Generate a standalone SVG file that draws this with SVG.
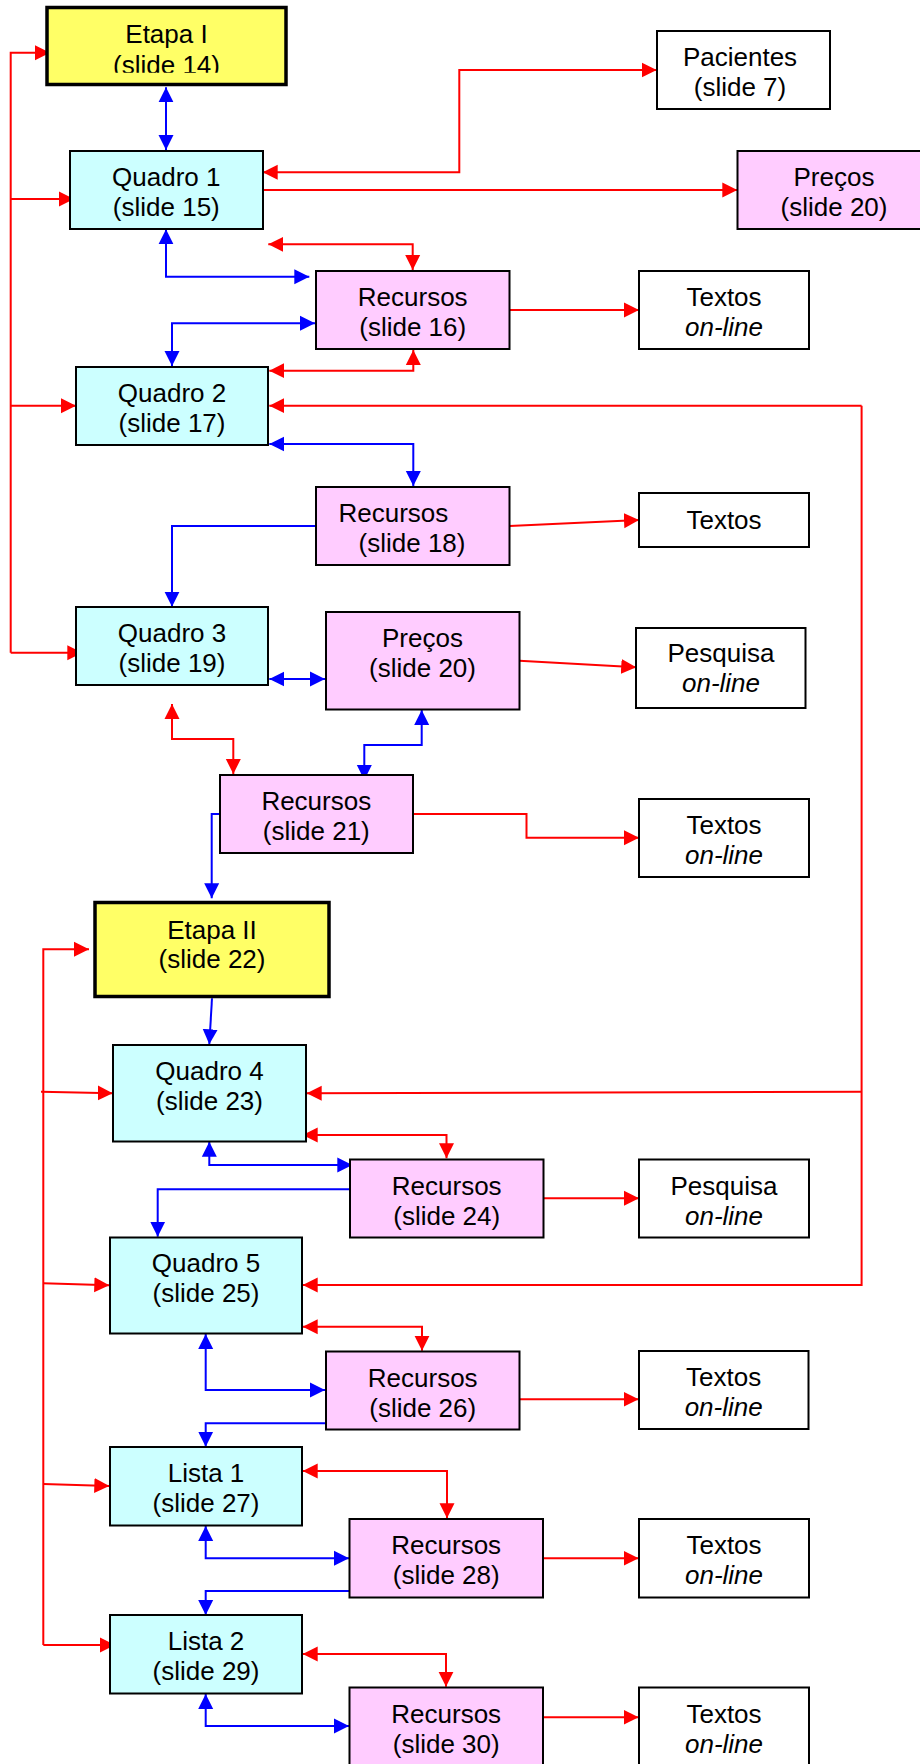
<svg xmlns="http://www.w3.org/2000/svg" width="920" height="1764" viewBox="0 0 920 1764">
<defs>
<marker id="ar" markerUnits="userSpaceOnUse" markerWidth="16" markerHeight="16" viewBox="0 0 16 16" refX="15" refY="8" orient="auto-start-reverse"><path d="M0,0.5 L15,8 L0,15.5 z" fill="#FF0000"/></marker>
<marker id="ab" markerUnits="userSpaceOnUse" markerWidth="16" markerHeight="16" viewBox="0 0 16 16" refX="15" refY="8" orient="auto-start-reverse"><path d="M0,0.5 L15,8 L0,15.5 z" fill="#0000FF"/></marker>
<clipPath id="clipE1"><rect x="40" y="0" width="260" height="72.7"/></clipPath>
</defs>
<style>
.box{stroke:#000;stroke-width:2}
.thick{stroke:#000;stroke-width:3.5}
.y{fill:#FFFF66}.c{fill:#CCFFFF}.p{fill:#FFCCFF}.w{fill:#FFFFFF}
text{font-family:"Liberation Sans",Arial,sans-serif;font-size:26px;fill:#000;text-anchor:middle}
.it{font-style:italic}
.r{fill:none;stroke:#FF0000;stroke-width:2}
.b{fill:none;stroke:#0000FF;stroke-width:2}
.re{marker-end:url(#ar)}.rs{marker-start:url(#ar)}
.be{marker-end:url(#ab)}.bs{marker-start:url(#ab)}
</style>
<rect width="920" height="1764" fill="#FFFFFF"/>
<g id="connectors">
<!-- left red bus 1 -->
<path class="r re" d="M10.7,652.7 V52.7 H50"/>
<path class="r re" d="M10.7,199 H74"/>
<path class="r re" d="M10.7,405.7 H76"/>
<path class="r re" d="M10.7,652.7 H82.3"/>
<!-- left red bus 2 -->
<path class="r re" d="M43.3,1645 V949.3 H89"/>
<path class="r re" d="M41,1091.7 L112.7,1093.3"/>
<path class="r re" d="M43.3,1283.3 L109.3,1285.3"/>
<path class="r re" d="M43.3,1484 L109.3,1486"/>
<path class="r re" d="M43.3,1645 H115"/>
<!-- big right red -->
<path class="r re" d="M861.6,405.7 H269.3"/>
<path class="r re" d="M861.6,405.7 V1285 H302.7"/>
<path class="r re" d="M861.6,1091.7 L306.7,1093.3"/>
<!-- top area -->
<path class="b bs be" d="M166,87.3 V150"/>
<path class="r rs re" d="M262.7,172.3 H459.3 V70 H656.7"/>
<path class="r re" d="M262.7,190 H737.3"/>
<path class="r rs re" d="M268.3,244.3 H412.7 V270"/>
<path class="b bs be" d="M166,229.3 V276.7 H309.3"/>
<path class="b bs be" d="M172,366 V323.3 H315"/>
<path class="r rs re" d="M269.3,370.7 H413.3 V350"/>
<path class="r re" d="M509.5,310 H639"/>
<path class="b bs be" d="M269.3,444 H413.3 V486"/>
<path class="r re" d="M509.5,526 L639,520"/>
<path class="b be" d="M316,526 H172 V606.7"/>
<path class="b bs be" d="M269.3,679 H325"/>
<path class="r re" d="M519.4,660.7 L636.2,667.3"/>
<path class="r rs re" d="M172,704 V739 H233.3 V774"/>
<path class="b bs be" d="M421.7,710 V745 H364.3 V780"/>
<path class="r re" d="M412.7,814 H526.5 V837.7 H639"/>
<path class="b be" d="M220,814 H211.7 V898.3"/>
<!-- Etapa II area -->
<path class="b be" d="M212,998.3 L209.3,1044.3"/>
<path class="r rs re" d="M302.7,1135 H446.5 V1158.3"/>
<path class="b bs be" d="M209.3,1141.7 V1165 H352.3"/>
<path class="b be" d="M350,1189.3 H157.7 V1236.7"/>
<path class="r re" d="M543.2,1198.3 H639"/>
<path class="r rs re" d="M302.7,1326.7 H422 V1350.7"/>
<path class="b bs be" d="M205.7,1334 V1390 H325"/>
<path class="b be" d="M326,1423.3 H205.7 V1446.7"/>
<path class="r re" d="M519.4,1399.3 H638.6"/>
<path class="r rs re" d="M302.7,1471 H447 V1518.3"/>
<path class="b bs be" d="M205.7,1526 V1558.3 H349"/>
<path class="b be" d="M349.3,1591 H205.7 V1615"/>
<path class="r re" d="M543.2,1558.3 H638.6"/>
<path class="r rs re" d="M302.7,1654 H446 V1686.7"/>
<path class="b bs be" d="M205.7,1694 V1726 H349"/>
<path class="r re" d="M543.2,1717.3 H638.6"/>
</g>
<g id="etapa1"><rect class="thick y" x="47" y="7.5" width="239" height="77"/><text x="166.5" y="42.5">Etapa I</text><text x="166.5" y="73.5" clip-path="url(#clipE1)">(slide 14)</text></g>
<g id="pacientes"><rect class="box w" x="657" y="31" width="173" height="78"/><text x="740" y="66">Pacientes</text><text x="740" y="96">(slide 7)</text></g>
<g id="quadro1"><rect class="box c" x="70" y="151" width="193" height="78"/><text x="166.3" y="186">Quadro 1</text><text x="166.3" y="216">(slide 15)</text></g>
<g id="precos-top"><rect class="box p" x="737.5" y="151" width="193" height="78"/><text x="834" y="186">Preços</text><text x="834" y="216">(slide 20)</text></g>
<g id="recursos16"><rect class="box p" x="316" y="271" width="193.5" height="78"/><text x="412.7" y="306">Recursos</text><text x="412.7" y="336">(slide 16)</text></g>
<g id="textos16"><rect class="box w" x="639" y="271" width="170" height="78"/><text x="724" y="306">Textos</text><text class="it" x="724" y="336">on-line</text></g>
<g id="quadro2"><rect class="box c" x="76" y="367" width="192" height="78"/><text x="172" y="402">Quadro 2</text><text x="172" y="432">(slide 17)</text></g>
<g id="recursos18"><rect class="box p" x="316" y="487" width="193.5" height="78"/><text x="393.4" y="522">Recursos</text><text x="412" y="552">(slide 18)</text></g>
<g id="textos18"><rect class="box w" x="639" y="493" width="170" height="54"/><text x="724" y="528.5">Textos</text></g>
<g id="quadro3"><rect class="box c" x="76" y="607" width="192" height="78"/><text x="172" y="642">Quadro 3</text><text x="172" y="672">(slide 19)</text></g>
<g id="precos20"><rect class="box p" x="326" y="612" width="193.5" height="97.5"/><text x="422.5" y="647">Preços</text><text x="422.5" y="677">(slide 20)</text></g>
<g id="pesquisa20"><rect class="box w" x="636" y="628" width="169.5" height="80"/><text x="721" y="662">Pesquisa</text><text class="it" x="721" y="692">on-line</text></g>
<g id="recursos21"><rect class="box p" x="220" y="775" width="193" height="78"/><text x="316.3" y="810">Recursos</text><text x="316.3" y="840">(slide 21)</text></g>
<g id="textos21"><rect class="box w" x="639" y="799" width="170" height="78"/><text x="724" y="834">Textos</text><text class="it" x="724" y="864">on-line</text></g>
<g id="etapa2"><rect class="thick y" x="95" y="902.5" width="234" height="94"/><text x="212" y="938.5">Etapa II</text><text x="212" y="967.5">(slide 22)</text></g>
<g id="quadro4"><rect class="box c" x="113" y="1045" width="193" height="96.5"/><text x="209.5" y="1080">Quadro 4</text><text x="209.5" y="1110">(slide 23)</text></g>
<g id="recursos24"><rect class="box p" x="350" y="1159.5" width="193.5" height="78"/><text x="446.7" y="1194.5">Recursos</text><text x="446.7" y="1224.5">(slide 24)</text></g>
<g id="pesquisa24"><rect class="box w" x="639" y="1159.5" width="170" height="78"/><text x="724" y="1194.5">Pesquisa</text><text class="it" x="724" y="1224.5">on-line</text></g>
<g id="quadro5"><rect class="box c" x="110" y="1237.5" width="192" height="96"/><text x="206" y="1272">Quadro 5</text><text x="206" y="1302">(slide 25)</text></g>
<g id="recursos26"><rect class="box p" x="326" y="1351.5" width="193.5" height="78"/><text x="422.7" y="1386.5">Recursos</text><text x="422.7" y="1416.5">(slide 26)</text></g>
<g id="textos26"><rect class="box w" x="639" y="1351" width="169.5" height="78"/><text x="723.7" y="1386">Textos</text><text class="it" x="723.7" y="1416">on-line</text></g>
<g id="lista1"><rect class="box c" x="110" y="1447" width="192" height="78.5"/><text x="206" y="1482">Lista 1</text><text x="206" y="1512">(slide 27)</text></g>
<g id="recursos28"><rect class="box p" x="349.5" y="1519" width="193.5" height="78.5"/><text x="446.2" y="1554">Recursos</text><text x="446.2" y="1584">(slide 28)</text></g>
<g id="textos28"><rect class="box w" x="639" y="1519" width="170" height="78.5"/><text x="724" y="1554">Textos</text><text class="it" x="724" y="1584">on-line</text></g>
<g id="lista2"><rect class="box c" x="110" y="1615" width="192" height="78.5"/><text x="206" y="1650">Lista 2</text><text x="206" y="1680">(slide 29)</text></g>
<g id="recursos30"><rect class="box p" x="349.5" y="1687.5" width="193.5" height="78"/><text x="446.2" y="1722.5">Recursos</text><text x="446.2" y="1752.5">(slide 30)</text></g>
<g id="textos30"><rect class="box w" x="639" y="1687.5" width="170" height="78"/><text x="724" y="1722.5">Textos</text><text class="it" x="724" y="1752.5">on-line</text></g>
</svg>
